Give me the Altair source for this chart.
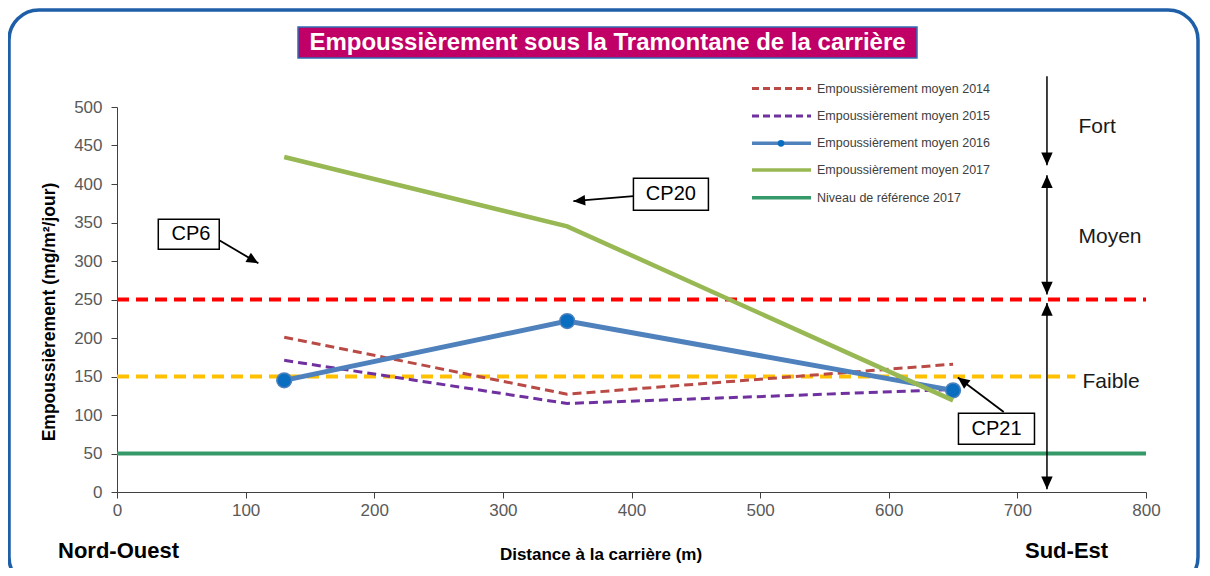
import math
import altair as alt
import pandas as pd

# ---------------- data ----------------
distance = [130, 350, 650]
moy_2014 = [201, 127, 166]
moy_2015 = [171, 115, 133]
moy_2016 = [145, 222, 132]
moy_2017 = [435, 345, 119]
ref_2017 = 50
seuil_moyen = 250
seuil_faible = 150
seuil_faible_fin = 745
x_ticks = [0, 100, 200, 300, 400, 500, 600, 700, 800]
y_ticks = [0, 50, 100, 150, 200, 250, 300, 350, 400, 450, 500]
series_names = [
    "Empoussièrement moyen 2014",
    "Empoussièrement moyen 2015",
    "Empoussièrement moyen 2016",
    "Empoussièrement moyen 2017",
    "Niveau de référence 2017",
]
level_names = ["Fort", "Moyen", "Faible"]
point_names = ["CP6", "CP20", "CP21"]

# ---------------- layout / style ----------------
W, H = 1029, 385
XMAX, YMAX = 800, 500
PX, PY = W / XMAX, H / YMAX
FONT = "Liberation Sans"

c2014, c2015, c2016, c2016m, c2017, cref = "#B94A45", "#7030A0", "#4F81BD", "#0A6EC0", "#97B853", "#36996A"

xs = alt.Scale(domain=[0, XMAX], nice=False, zero=False)
ys = alt.Scale(domain=[0, YMAX], nice=False, zero=False)
x_axis = alt.Axis(values=x_ticks, title=None, grid=False, labelFontSize=17, labelColor="#595959",
                  labelFont=FONT, tickSize=6, tickColor="#404040", domainColor="#404040",
                  labelPadding=4, labelFlush=False, labelOverlap=False, format="d")
y_axis = alt.Axis(values=y_ticks, title=None, grid=False, labelFontSize=17, labelColor="#595959",
                  labelFont=FONT, tickSize=6, tickColor="#404040", domainColor="#404040",
                  labelPadding=9, labelFlush=False, labelOverlap=False, format="d")


def X(f):
    return alt.X(f, type="quantitative", scale=xs, axis=x_axis)


def Y(f):
    return alt.Y(f, type="quantitative", scale=ys, axis=y_axis)


def X2(f):
    return alt.X2(f)


def Y2(f):
    return alt.Y2(f)


one = pd.DataFrame({"a": [0]})
layers = []

# outer rounded frame (outline only)
layers.append(alt.Chart(one).mark_rect(fillOpacity=0, stroke="#1F5FA8", strokeWidth=3.5, cornerRadius=30).encode(
    x=alt.value(-108), x2=alt.value(1081), y=alt.value(-97), y2=alt.value(480)))

# threshold lines
thr = pd.DataFrame({"x0": [0, 0, 0], "x1": [XMAX, seuil_faible_fin, XMAX],
                    "y": [seuil_moyen, seuil_faible, ref_2017]})
layers.append(alt.Chart(thr.iloc[[0]]).mark_rule(color="#FF0000", strokeWidth=4, strokeDash=[12, 7]).encode(
    x=X("x0"), x2=X2("x1"), y=Y("y")))
layers.append(alt.Chart(thr.iloc[[1]]).mark_rule(color="#FFC000", strokeWidth=4, strokeDash=[12, 7]).encode(
    x=X("x0"), x2=X2("x1"), y=Y("y")))


def line_df(vals):
    return pd.DataFrame({"d": distance, "v": vals})


layers.append(alt.Chart(line_df(moy_2014)).mark_line(color=c2014, strokeWidth=3, strokeDash=[9, 5]).encode(
    x=X("d"), y=Y("v")))
layers.append(alt.Chart(line_df(moy_2015)).mark_line(color=c2015, strokeWidth=3, strokeDash=[9, 5]).encode(
    x=X("d"), y=Y("v")))
layers.append(alt.Chart(line_df(moy_2016)).mark_line(color=c2016, strokeWidth=5).encode(
    x=X("d"), y=Y("v")))
layers.append(alt.Chart(line_df(moy_2016)).mark_point(filled=True, fill=c2016m, stroke=c2016, strokeWidth=1.5,
                                                      size=220, opacity=1, shape="circle").encode(
    x=X("d"), y=Y("v")))
layers.append(alt.Chart(line_df(moy_2017)).mark_line(color=c2017, strokeWidth=4.5).encode(
    x=X("d"), y=Y("v")))
layers.append(alt.Chart(thr.iloc[[2]]).mark_rule(color=cref, strokeWidth=4).encode(
    x=X("x0"), x2=X2("x1"), y=Y("y")))

# ---------------- arrows ----------------
ARROW = "M0,0L-0.45,1L0.45,1Z"


def angle_of(x0, y0, x1, y1):
    dx = (x1 - x0) * PX
    dy = -(y1 - y0) * PY
    return math.degrees(math.atan2(dx, -dy)) % 360


lvl_x = 723
seg = pd.DataFrame({"x": [lvl_x] * 3, "y0": [540, 411.4, 245.6], "y1": [424.4, 256.5, 3.6]})
layers.append(alt.Chart(seg).mark_rule(color="black", strokeWidth=1.5).encode(
    x=X("x"), y=Y("y0"), y2=Y2("y1")))
heads = pd.DataFrame({"x": [lvl_x] * 5, "y": [424.4, 411.4, 256.5, 245.6, 3.6],
                      "ang": [180, 0, 180, 0, 180]})
layers.append(alt.Chart(heads).mark_point(shape=ARROW, filled=True, color="black", size=650, opacity=1).encode(
    x=X("x"), y=Y("y"), angle=alt.Angle("ang:Q", scale=None)))

boxes = pd.DataFrame({
    "name": point_names,
    "bx0": [32.1, 401.5, 654.2], "bx1": [79.5, 459.8, 713.3],
    "by0": [354.3, 407.5, 102.3], "by1": [315.3, 366.0, 62.1],
    "tx": [57.5, 430.6, 683.8], "ty": [334.8, 386.8, 82.2],
    "ax0": [79.5, 401.5, 689.4], "ay0": [327.0, 384.2, 103.9],
    "ax1": [109.9, 354.8, 653.7], "ay1": [297.0, 377.7, 148.7],
})
boxes["ang"] = [angle_of(r.ax0, r.ay0, r.ax1, r.ay1) for r in boxes.itertuples()]
layers.append(alt.Chart(boxes).mark_rule(color="black", strokeWidth=1.8).encode(
    x=X("ax0"), y=Y("ay0"), x2=X2("ax1"), y2=Y2("ay1")))
layers.append(alt.Chart(boxes).mark_point(shape=ARROW, filled=True, color="black", size=560, opacity=1).encode(
    x=X("ax1"), y=Y("ay1"), angle=alt.Angle("ang:Q", scale=None)))
layers.append(alt.Chart(boxes).mark_rect(fill="white", stroke="black", strokeWidth=1.5).encode(
    x=X("bx0"), x2=X2("bx1"), y=Y("by0"), y2=Y2("by1")))
layers.append(alt.Chart(boxes).mark_text(font=FONT, fontSize=20, color="black", align="center",
                                         baseline="middle").encode(
    x=X("tx"), y=Y("ty"), text="name:N"))

lv = pd.DataFrame({"name": level_names, "x": [747.5, 747.5, 750.6], "y": [473.8, 331.0, 142.6]})
layers.append(alt.Chart(lv).mark_text(font=FONT, fontSize=21, color="#1A1A1A", align="left",
                                      baseline="middle").encode(
    x=X("x"), y=Y("y"), text="name:N"))

# ---------------- legend (drawn) ----------------
leg_y = [-18.5, 9, 36.3, 63, 90.7]
leg_style = [
    dict(color=c2014, strokeWidth=3, strokeDash=[7, 4]),
    dict(color=c2015, strokeWidth=3, strokeDash=[7, 4]),
    dict(color=c2016, strokeWidth=3.5),
    dict(color=c2017, strokeWidth=3.5),
    dict(color=cref, strokeWidth=3.5),
]
for i, (name, ly, st) in enumerate(zip(series_names, leg_y, leg_style)):
    layers.append(alt.Chart(one).mark_rule(**st).encode(
        x=alt.value(635), x2=alt.value(694), y=alt.value(ly)))
    if i == 2:
        layers.append(alt.Chart(one).mark_point(filled=True, fill=c2016m, size=45, opacity=1).encode(
            x=alt.value(664), y=alt.value(ly)))
    layers.append(alt.Chart(one).mark_text(text=name, font=FONT, fontSize=12.5, color="#404040",
                                           align="left", baseline="middle").encode(
        x=alt.value(700), y=alt.value(ly)))

# ---------------- titles and side texts ----------------
layers.append(alt.Chart(one).mark_rect(fill="#C00066", stroke="#2F6EB5", strokeWidth=1.5).encode(
    x=alt.value(181), x2=alt.value(800), y=alt.value(-80), y2=alt.value(-49)))
layers.append(alt.Chart(one).mark_text(text="Empoussièrement sous la Tramontane de la carrière", font=FONT,
                                       fontSize=24, fontWeight="bold", color="white", align="center",
                                       baseline="middle").encode(
    x=alt.value(490.5), y=alt.value(-64)))
layers.append(alt.Chart(one).mark_text(text="Empoussièrement  (mg/m²/jour)", font=FONT, fontSize=17.5,
                                       fontWeight="bold", color="black", align="center", baseline="middle",
                                       angle=270).encode(
    x=alt.value(-67), y=alt.value(205)))
layers.append(alt.Chart(one).mark_text(text="Distance à la carrière (m)", font=FONT, fontSize=17,
                                       fontWeight="bold", color="black", align="center",
                                       baseline="middle").encode(
    x=alt.value(484), y=alt.value(448)))
layers.append(alt.Chart(one).mark_text(text="Nord-Ouest", font=FONT, fontSize=22, fontWeight="bold",
                                       color="black", align="left", baseline="middle").encode(
    x=alt.value(-59), y=alt.value(444)))
layers.append(alt.Chart(one).mark_text(text="Sud-Est", font=FONT, fontSize=22, fontWeight="bold",
                                       color="black", align="left", baseline="middle").encode(
    x=alt.value(908), y=alt.value(444)))

chart = alt.layer(*layers).properties(
    width=W, height=H,
    autosize=alt.AutoSizeParams(type="none"),
    padding={"left": 109, "top": 99, "right": 56, "bottom": 76},
    background="white",
).configure_view(stroke=None)

chart.save("out.html", embed_options={"renderer": "svg", "actions": False})
